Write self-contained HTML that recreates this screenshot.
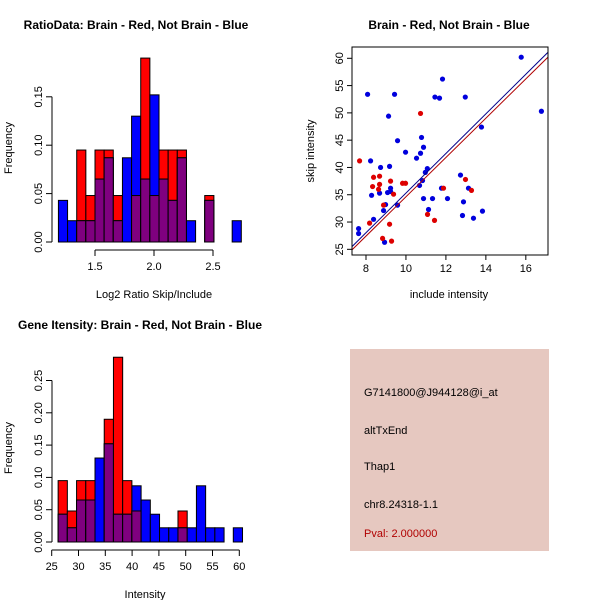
<!DOCTYPE html>
<html><head><meta charset="utf-8"><style>
body{margin:0;background:#fff;}
svg text{font-family:"Liberation Sans",sans-serif;}
</style></head><body>
<svg id="s" width="600" height="600" xmlns="http://www.w3.org/2000/svg">
<rect width="600" height="600" fill="#fff"/>
<text x="136" y="29" text-anchor="middle" font-size="12" font-weight="bold">RatioData: Brain - Red, Not Brain - Blue</text>
<text x="449" y="29" text-anchor="middle" font-size="12" font-weight="bold">Brain - Red, Not Brain - Blue</text>
<text x="140" y="329" text-anchor="middle" font-size="12" font-weight="bold">Gene Itensity: Brain - Red, Not Brain - Blue</text>
<text x="154" y="298" text-anchor="middle" font-size="11">Log2 Ratio Skip/Include</text>
<text x="449" y="298" text-anchor="middle" font-size="11">include intensity</text>
<text x="145" y="598" text-anchor="middle" font-size="11">Intensity</text>
<text transform="translate(12,148) rotate(-90)" text-anchor="middle" font-size="11">Frequency</text>
<text transform="translate(12,448) rotate(-90)" text-anchor="middle" font-size="11">Frequency</text>
<text transform="translate(314,151) rotate(-90)" text-anchor="middle" font-size="11">skip intensity</text>
<g>
<rect x="350" y="349" width="199" height="202" fill="#e6c8c0"/>
<text x="364" y="396" font-size="11">G7141800@J944128@i_at</text>
<text x="364" y="434" font-size="11">altTxEnd</text>
<text x="364" y="470" font-size="11">Thap1</text>
<text x="364" y="508" font-size="11">chr8.24318-1.1</text>
<text x="364" y="537" font-size="11" fill="#b00000">Pval: 2.000000</text>
</g>
</svg>
<script>
// Ratio histogram data
const ratioBinStart = 1.19, ratioBinWidth = 0.0775;
const ratioRed  = [0,0,0.095,0.048,0.095,0.095,0.048,0,0.048,0.19,0.048,0.095,0.095,0.095,0,0,0.048,0,0,0];
const ratioBlue = [0.043,0.022,0.022,0.022,0.065,0.087,0.022,0.087,0.13,0.065,0.152,0.065,0.043,0.087,0.022,0,0.043,0,0,0.022];
const ratioXTicks = [1.5,2.0,2.5];
const ratioXTickLabels = ["1.5","2.0","2.5"];
const ratioYTicks = [0,0.05,0.10,0.15];
const ratioYTickLabels = ["0.00","0.05","0.10","0.15"];
// Intensity histogram data
const intBinStart = 26.2, intBinWidth = 1.72;
const intRed  = [0.095,0.048,0.095,0.095,0,0.19,0.286,0.095,0.048,0,0,0,0,0.048,0,0,0,0,0,0];
const intBlue = [0.043,0.022,0.065,0.065,0.13,0.152,0.043,0.043,0.087,0.065,0.043,0.022,0.022,0.022,0.022,0.087,0.022,0.022,0,0.022];
const intXTicks = [25,30,35,40,45,50,55,60];
const intXTickLabels = ["25","30","35","40","45","50","55","60"];
const intYTicks = [0,0.05,0.10,0.15,0.20,0.25];
const intYTickLabels = ["0.00","0.05","0.10","0.15","0.20","0.25"];
// Scatter data
const blueX = [15.77,16.78,8.08,9.43,11.83,11.45,11.68,12.97,9.13,13.78,9.58,10.78,10.88,9.98,10.53,10.73,8.23,8.73,9.18,11.07,10.97,10.68,10.83,9.23,9.23,9.08,8.68,8.28,10.88,11.33,12.08,11.78,12.73,13.13,12.88,9.58,8.98,8.88,11.13,12.83,13.38,13.83,8.38,7.63,7.63,8.93];
const blueY = [60.2,50.3,53.4,53.4,56.2,52.9,52.7,52.9,49.4,47.4,44.9,45.5,43.7,42.8,41.7,42.6,41.2,40.0,40.2,39.8,39.1,36.7,37.6,36.2,35.6,35.4,35.3,34.9,34.3,34.3,34.3,36.2,38.6,36.2,33.7,33.1,33.2,32.1,32.3,31.2,30.7,32.0,30.5,28.8,27.9,26.3];
const redX = [7.68,10.73,8.38,8.68,8.33,8.68,9.23,8.63,9.83,9.98,9.38,8.88,11.88,12.98,13.28,8.18,9.18,11.08,11.43,8.83,9.28];
const redY = [41.2,49.9,38.2,38.4,36.5,36.9,37.5,36.0,37.1,37.1,35.1,33.1,36.2,37.8,35.8,29.8,29.6,31.4,30.3,27.0,26.5];
const fitBlue = [-1.0,3.63];
const fitRed = [-1.38,3.60];
const scXTicks = [8,10,12,14,16];
const scXTickLabels = ["8","10","12","14","16"];
const scYTicks = [25,30,35,40,45,50,55,60];
const scYTickLabels = ["25","30","35","40","45","50","55","60"];

const NS="http://www.w3.org/2000/svg", svg=document.getElementById('s');
function mk(tag,at,parent){const e=document.createElementNS(NS,tag);for(const k in at)e.setAttribute(k,at[k]);(parent||svg).appendChild(e);return e;}

function hist(o){
  const g=mk('g',{});
  
  
  const X=v=>o.x0+(v-o.d0)*o.sx, Y=v=>o.y0-v*o.sy;
  for(let i=0;i<o.red.length;i++){
    const l=X(o.start+i*o.w), r=X(o.start+(i+1)*o.w);
    const rv=o.red[i], bv=o.blue[i];
    if(rv>0){const e=mk('rect',{x:l,y:Y(rv),width:r-l,height:rv*o.sy,fill:'#ff0000',stroke:'#000','stroke-width':1},g);
      
      }
    if(bv>0){const e=mk('rect',{x:l,y:Y(bv),width:r-l,height:bv*o.sy,fill:'#0000ff',stroke:'#000','stroke-width':1},g);
      
      }
    const m=Math.min(rv,bv);
    if(m>0){const e=mk('rect',{x:l,y:Y(m),width:r-l,height:m*o.sy,fill:'#7f007f',stroke:'#000','stroke-width':1},g);
      
      }
  }
  // x axis
  const xa=o.xt, ay=o.axY;
  const xl=mk('line',{x1:X(xa[0]),x2:X(xa[xa.length-1]),y1:ay,y2:ay,stroke:'#000'},g);
  
  
  xa.forEach((t,i)=>{mk('line',{x1:X(t),x2:X(t),y1:ay,y2:ay+6,stroke:'#000'},g);
    const tx=mk('text',{x:X(t),y:ay+20,'text-anchor':'middle','font-size':11},g);tx.textContent=o.xl[i];
    
    });
  const ya=o.yt;
  const yl=mk('line',{x1:o.axX,x2:o.axX,y1:Y(ya[0]),y2:Y(ya[ya.length-1]),stroke:'#000'},g);
  
  
  ya.forEach((t,i)=>{mk('line',{x1:o.axX-6,x2:o.axX,y1:Y(t),y2:Y(t),stroke:'#000'},g);
    const tx=mk('text',{transform:`translate(${o.axX-10},${Y(t)}) rotate(-90)`,'text-anchor':'middle','font-size':11},g);tx.textContent=o.yl[i];
    
    });
}
hist({name:'ratio-histogram',red:ratioRed,blue:ratioBlue,start:ratioBinStart,w:ratioBinWidth,x0:95,d0:1.5,sx:118,y0:242,sy:968,xt:ratioXTicks,xl:ratioXTickLabels,yt:ratioYTicks,yl:ratioYTickLabels,axY:250,axX:52});
hist({name:'intensity-histogram',red:intRed,blue:intBlue,start:intBinStart,w:intBinWidth,x0:51.7,d0:25,sx:5.36,y0:542,sy:646,xt:intXTicks,xl:intXTickLabels,yt:intYTicks,yl:intYTickLabels,axY:550,axX:52});

// scatter
(function(){
  const L=352,R=548,T=47,B=255, xmin=7.3,xmax=17.11,ymin=23.96,ymax=62.07;
  const X=v=>L+(v-xmin)/(xmax-xmin)*(R-L), Y=v=>B-(v-ymin)/(ymax-ymin)*(B-T);
  const g=mk('g',{});
  
  
  mk('clipPath',{id:'cp'},g).appendChild(Object.assign(document.createElementNS(NS,'rect')));
  const cr=g.querySelector('clipPath rect');cr.setAttribute('x',L);cr.setAttribute('y',T);cr.setAttribute('width',R-L);cr.setAttribute('height',B-T);
  blueX.forEach((v,i)=>{const c=mk('circle',{cx:X(v),cy:Y(blueY[i]),r:2.6,fill:'#0000dd'},g);
    
    });
  redX.forEach((v,i)=>{const c=mk('circle',{cx:X(v),cy:Y(redY[i]),r:2.6,fill:'#dd0000'},g);
    
    });
  [[fitBlue,'#00008b','blue-fit-line'],[fitRed,'#b00000','red-fit-line']].forEach(([f,col,n])=>{
    const l=mk('line',{x1:X(xmin),y1:Y(f[0]+f[1]*xmin),x2:X(xmax),y2:Y(f[0]+f[1]*xmax),stroke:col,'stroke-width':1,'clip-path':'url(#cp)'},g);
    
    });
  const bx=mk('rect',{x:L,y:T,width:R-L,height:B-T,fill:'none',stroke:'#000'},g);
  
  
  scXTicks.forEach((t,i)=>{mk('line',{x1:X(t),x2:X(t),y1:B,y2:B+5,stroke:'#000'},g);
    const tx=mk('text',{x:X(t),y:B+17,'text-anchor':'middle','font-size':11},g);tx.textContent=scXTickLabels[i];
    
    });
  scYTicks.forEach((t,i)=>{mk('line',{x1:L-5,x2:L,y1:Y(t),y2:Y(t),stroke:'#000'},g);
    const tx=mk('text',{transform:`translate(${L-9},${Y(t)}) rotate(-90)`,'text-anchor':'middle','font-size':11},g);tx.textContent=scYTickLabels[i];
    
    });
})();
</script>
</body></html>
